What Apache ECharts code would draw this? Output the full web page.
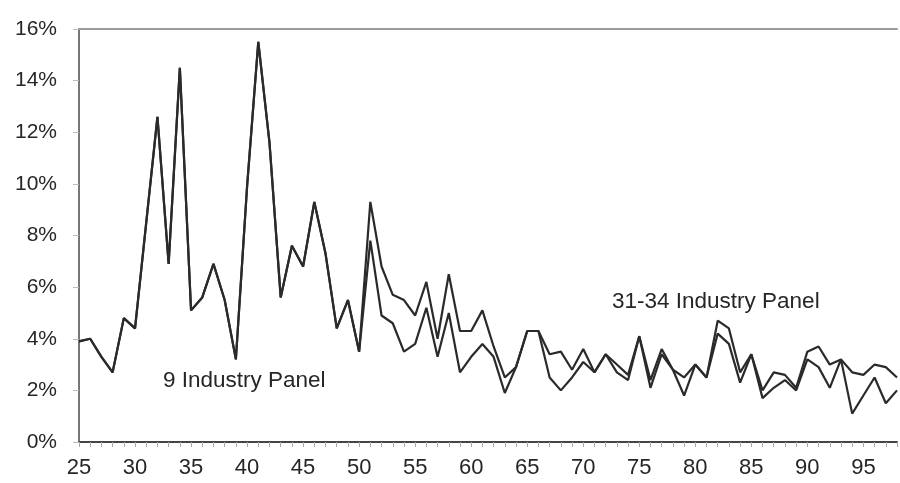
<!DOCTYPE html>
<html>
<head>
<meta charset="utf-8">
<script src="https://cdn.jsdelivr.net/npm/echarts@6/dist/echarts.min.js"></script>
<style>
  html, body { margin: 0; padding: 0; background: #fff; }
  #chart { width: 900px; height: 483px; }
</style>
</head>
<body>
<div id="chart"></div>
<script>
// Years 1925-1998, shown as two-digit labels
const years = ['25','26','27','28','29','30','31','32','33','34','35','36','37','38','39',
  '40','41','42','43','44','45','46','47','48','49','50','51','52','53','54','55','56','57',
  '58','59','60','61','62','63','64','65','66','67','68','69','70','71','72','73','74','75',
  '76','77','78','79','80','81','82','83','84','85','86','87','88','89','90','91','92','93',
  '94','95','96','97','98'];

// Annual rate (%), 9 industry panel
const nineIndustry = [3.9, 4.0, 3.3, 2.7, 4.8, 4.4, 8.5, 12.6, 6.9, 14.5, 5.1, 5.6, 6.9, 5.5, 3.2,
  9.9, 15.5, 11.6, 5.6, 7.6, 6.8, 9.3, 7.3, 4.4, 5.5, 3.5, 7.8, 4.9, 4.6, 3.5, 3.8, 5.2, 3.3,
  5.0, 2.7, 3.3, 3.8, 3.3, 1.9, 2.9, 4.3, 4.3, 2.5, 2.0, 2.5, 3.1, 2.7, 3.4, 2.7, 2.4, 4.1,
  2.1, 3.4, 2.8, 1.8, 3.0, 2.5, 4.2, 3.8, 2.3, 3.4, 1.7, 2.1, 2.4, 2.0, 3.2, 2.9, 2.1, 3.2,
  1.1, 1.8, 2.5, 1.5, 2.0];

// Annual rate (%), 31-34 industry panel
const wideIndustry = [3.9, 4.0, 3.3, 2.7, 4.8, 4.4, 8.5, 12.6, 6.9, 14.5, 5.1, 5.6, 6.9, 5.5, 3.2,
  9.9, 15.5, 11.6, 5.6, 7.6, 6.8, 9.3, 7.3, 4.4, 5.5, 3.5, 9.3, 6.8, 5.7, 5.5, 4.9, 6.2, 4.0,
  6.5, 4.3, 4.3, 5.1, 3.7, 2.5, 2.9, 4.3, 4.3, 3.4, 3.5, 2.8, 3.6, 2.7, 3.4, 3.0, 2.6, 4.1,
  2.4, 3.6, 2.8, 2.5, 3.0, 2.5, 4.7, 4.4, 2.7, 3.4, 2.0, 2.7, 2.6, 2.1, 3.5, 3.7, 3.0, 3.2,
  2.7, 2.6, 3.0, 2.9, 2.5];

const yTicks = { min: 0, max: 16, step: 2 };
const seriesNames = ['9 Industry Panel', '31-34 Industry Panel'];

const FONT = '"Liberation Sans", Arial, sans-serif';
const LINE = '#2a2a2a';
const TEXT = '#262626';

const chart = echarts.init(document.getElementById('chart'), null, { renderer: 'canvas' });

chart.setOption({
  backgroundColor: '#ffffff',
  animation: false,
  grid: { left: 79, right: 3, top: 29, bottom: 41, containLabel: false },
  xAxis: [
    {
      type: 'category',
      data: years,
      boundaryGap: false,
      axisLine: { lineStyle: { color: '#444', width: 2 } },
      axisTick: { show: true, interval: 0, length: 5, lineStyle: { color: '#aaa', width: 1 } },
      axisLabel: {
        interval: 4, margin: 15, color: TEXT,
        fontFamily: FONT, fontSize: 22
      },
      splitLine: { show: false }
    },
    {
      type: 'category',
      data: years,
      boundaryGap: false,
      position: 'top',
      axisLine: { lineStyle: { color: '#9a9a9a', width: 2 } },
      axisTick: { show: false },
      axisLabel: { show: false },
      splitLine: { show: false }
    }
  ],
  yAxis: {
    type: 'value',
    min: yTicks.min,
    max: yTicks.max,
    interval: yTicks.step,
    axisLine: { show: true, lineStyle: { color: '#777', width: 2 } },
    axisTick: { show: true, length: 6, lineStyle: { color: '#bbb', width: 1 } },
    axisLabel: {
      formatter: '{value}%', margin: 22, color: TEXT,
      fontFamily: FONT, fontSize: 21
    },
    splitLine: { show: false }
  },
  series: [
    {
      name: seriesNames[1],
      type: 'line',
      data: wideIndustry,
      symbol: 'none',
      lineStyle: { color: LINE, width: 2.2 },
      z: 2
    },
    {
      name: seriesNames[0],
      type: 'line',
      data: nineIndustry,
      symbol: 'none',
      lineStyle: { color: LINE, width: 2.2 },
      z: 3
    }
  ],
  graphic: [
    {
      type: 'text', left: 163, top: 369,
      style: { text: seriesNames[0], fill: TEXT, font: '22.5px ' + FONT }
    },
    {
      type: 'text', left: 612, top: 290,
      style: { text: seriesNames[1], fill: TEXT, font: '22.5px ' + FONT }
    }
  ]
});
</script>
</body>
</html>
